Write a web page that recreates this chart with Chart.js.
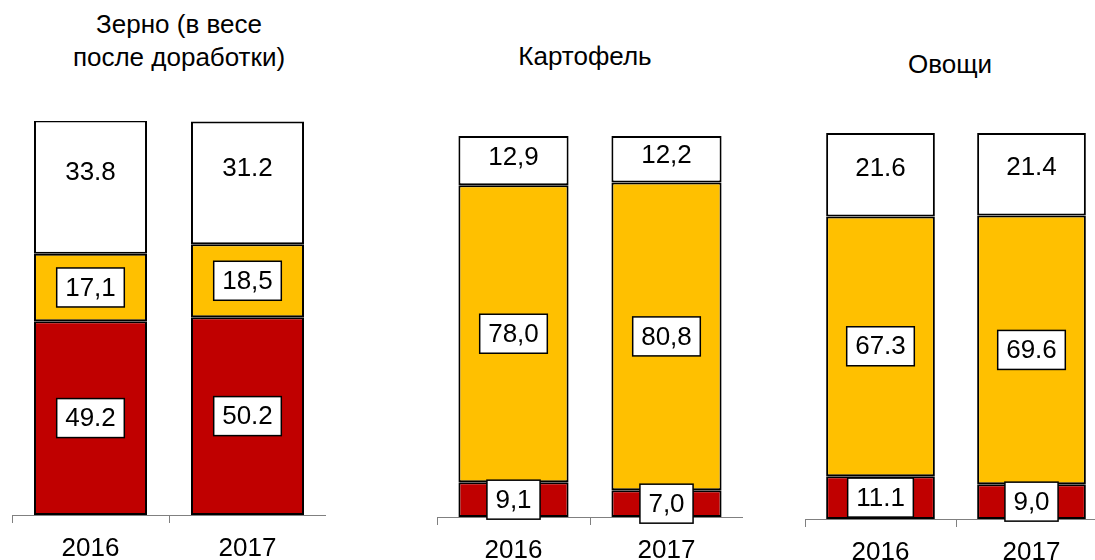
<!DOCTYPE html>
<html>
<head>
<meta charset="utf-8">
<script src="https://cdn.jsdelivr.net/npm/chart.js@4/dist/chart.umd.min.js"></script>
<style>
  body { margin: 0; width: 1095px; height: 560px; overflow: hidden; background: #fff; position: relative;
         font-family: "Liberation Sans", Arial, sans-serif; }
  .panel { position: absolute; top: 0; height: 560px; }
  .title { position: absolute; font-size: 26px; line-height: 33px; text-align: center; color: #000;
           white-space: nowrap; transform: translateX(-50%); }
</style>
</head>
<body>
<div class="title" style="left:179px; top:8px">Зерно (в весе<br>после доработки)</div>
<div class="title" style="left:585px; top:40px">Картофель</div>
<div class="title" style="left:950px; top:48px">Овощи</div>

<div class="panel" style="left:12px; width:314px"><canvas id="grain"></canvas></div>
<div class="panel" style="left:437px; width:306px"><canvas id="potato"></canvas></div>
<div class="panel" style="left:805px; width:302px"><canvas id="veg"></canvas></div>

<script>
const years = ['2016', '2017'];

// Зерно
const grainRed = [49.2, 50.2];
const grainYellow = [17.1, 18.5];
const grainWhite = [33.8, 31.2];
const grainRedText = ['49.2', '50.2'];
const grainYellowText = ['17,1', '18,5'];
const grainWhiteText = ['33.8', '31.2'];

// Картофель
const potatoRed = [9.1, 7.0];
const potatoYellow = [78.0, 80.8];
const potatoWhite = [12.9, 12.2];
const potatoRedText = ['9,1', '7,0'];
const potatoYellowText = ['78,0', '80,8'];
const potatoWhiteText = ['12,9', '12,2'];

// Овощи
const vegRed = [11.1, 9.0];
const vegYellow = [67.3, 69.6];
const vegWhite = [21.6, 21.4];
const vegRedText = ['11.1', '9,0'];
const vegYellowText = ['67.3', '69.6'];
const vegWhiteText = ['21.6', '21.4'];

const RED = '#C00000';
const YELLOW = '#FFC000';
const FONT = '"Liberation Sans", Arial, sans-serif';

const valueLabels = {
  id: 'valueLabels',
  afterDatasetsDraw(chart, args, opts) {
    const ctx = chart.ctx;
    ctx.save();
    ctx.font = '26px ' + FONT;
    ctx.textAlign = 'center';
    ctx.textBaseline = 'middle';
    chart.data.datasets.forEach((ds, di) => {
      chart.getDatasetMeta(di).data.forEach((bar, i) => {
        const text = ds.texts[i];
        const x = bar.x;
        let y = (bar.y + bar.base) / 2;
        if (ds.boxed) {
          const w = ctx.measureText(text).width + 17;
          const h = 39;
          ctx.fillStyle = '#fff';
          ctx.fillRect(x - w / 2, y - h / 2, w, h);
          ctx.strokeStyle = '#000';
          ctx.lineWidth = 1.5;
          ctx.strokeRect(x - w / 2, y - h / 2, w, h);
        } else {
          y -= opts.topShift;
        }
        ctx.fillStyle = '#000';
        ctx.fillText(text, x, y + 1);
      });
    });
    ctx.restore();
  }
};

function makeChart(id, red, yellow, white, redText, yellowText, whiteText, barTop, axisHeight, topShift) {
  const bar = { borderColor: '#000', borderWidth: 2, borderSkipped: false,
                barPercentage: 0.72, categoryPercentage: 1 };
  new Chart(document.getElementById(id), {
    type: 'bar',
    data: {
      labels: years,
      datasets: [
        { ...bar, data: red, backgroundColor: RED, texts: redText, boxed: true },
        { ...bar, data: yellow, backgroundColor: YELLOW, texts: yellowText, boxed: true },
        { ...bar, data: white, backgroundColor: '#fff', texts: whiteText, boxed: false }
      ]
    },
    options: {
      responsive: true,
      maintainAspectRatio: false,
      animation: false,
      layout: { padding: { top: barTop, left: 0, right: 0, bottom: 0 } },
      plugins: {
        legend: { display: false },
        tooltip: { enabled: false },
        valueLabels: { topShift: topShift }
      },
      scales: {
        x: {
          stacked: true,
          grid: { drawOnChartArea: false, drawTicks: true, tickLength: 8, color: '#808080', offset: true },
          border: { display: true, color: '#808080', width: 1 },
          ticks: { color: '#000', font: { family: FONT, size: 26 }, padding: 10 },
          afterFit(scale) { scale.height = axisHeight; }
        },
        y: { stacked: true, display: false, min: 0, max: 100 }
      }
    },
    plugins: [valueLabels]
  });
}

makeChart('grain', grainRed, grainYellow, grainWhite, grainRedText, grainYellowText, grainWhiteText, 121, 45, 15);
makeChart('potato', potatoRed, potatoYellow, potatoWhite, potatoRedText, potatoYellowText, potatoWhiteText, 136, 43, 4);
makeChart('veg', vegRed, vegYellow, vegWhite, vegRedText, vegYellowText, vegWhiteText, 133, 41, 7);
</script>
</body>
</html>
